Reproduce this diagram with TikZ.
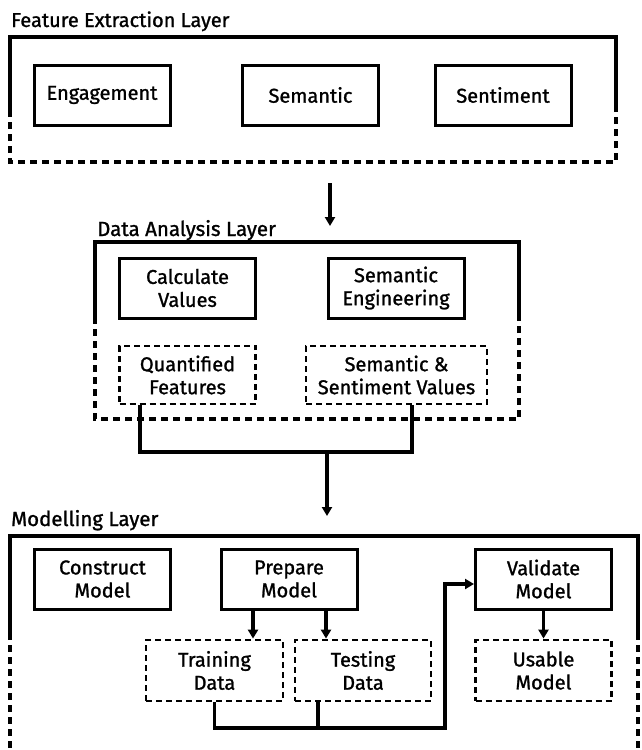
\documentclass[tikz,border=0pt]{standalone}
\usepackage{fontspec}
\setmainfont{Fira Sans}[FakeBold=1.2]
\usetikzlibrary{arrows.meta}
\tikzset{
  solidline/.style={line width=3.1pt},
  gapline/.style={line width=3.1pt, dash pattern=on 7pt off 5pt},
  stepbox/.style={draw, line width=3pt, minimum width=136pt, minimum height=60pt, align=center, inner sep=0pt},
  outbox/.style={stepbox, line width=2.8pt, dash pattern=on 6pt off 4pt},
  flow/.style={line width=3.1pt, -{Triangle[length=9pt,width=10pt]}},
  layertitle/.style={anchor=base west, inner sep=0pt},
  bigtext/.style={font=\fontsize{20}{24}\selectfont},
  smalltext/.style={font=\fontsize{20}{23}\selectfont}
}
\begin{document}
\begin{tikzpicture}[x=1pt,y=-1pt]
  \useasboundingbox (0,0) rectangle (641,750);

  % feature extraction layer
  \node[layertitle, bigtext] (fextitle) at (11,27) {Feature Extraction Layer};
  \draw[solidline] (10,110) -- (10,37) -- (616,37) -- (616,110);
  \draw[gapline] (10,110) -- (10,162) -- (616,162) -- (616,110);
  \node[stepbox, bigtext] (engage) at (102,95) {Engagement};
  \node[stepbox, bigtext] (semantic) at (310.5,95) {Semantic};
  \node[stepbox, bigtext] (sentiment) at (503,95) {Sentiment};

  \coordinate (fexout) at (330,183);
  \coordinate (dain) at (330,226);
  \draw[flow] (fexout) -- (dain);

  % data analysis layer
  \node[layertitle, font=\fontsize{20.5}{24}\selectfont] (datitle) at (97,236) {Data Analysis Layer};
  \draw[solidline] (95,317) -- (95,242) -- (519,242) -- (519,317);
  \draw[gapline] (95,317) -- (95,419) -- (519,419) -- (519,317);
  \node[stepbox, smalltext] (calc) at (187.5,288) {Calculate\\Values};
  \node[stepbox, smalltext] (semeng) at (396,288) {Semantic\\Engineering};
  \node[outbox, smalltext, minimum height=58pt] (quant) at (187.5,375) {Quantified\\Features};
  \node[outbox, smalltext, minimum width=181pt, minimum height=58pt] (semval) at (396.5,375) {Semantic \&\\Sentiment Values};

  \coordinate (join2) at (327,452);
  \coordinate (modin) at (327,516);
  \draw[solidline] ([xshift=-47.5pt]quant.south) |- (join2) -| ([xshift=15.5pt]semval.south);
  \draw[flow] (join2) -- (modin);

  % modelling layer
  \node[layertitle, font=\fontsize{20.5}{24}\selectfont] (modtitle) at (11,526) {Modelling Layer};
  \draw[solidline] (10,633) -- (10,536) -- (638,536) -- (638,633);
  \draw[gapline] (10,633) -- (10,750);
  \draw[gapline] (638,633) -- (638,750);
  \node[stepbox, smalltext] (construct) at (102.5,579) {Construct\\Model};
  \node[stepbox, smalltext] (prepare) at (289,579) {Prepare\\Model};
  \node[stepbox, smalltext] (validate) at (543.5,579) {Validate\\Model};
  \node[outbox, smalltext, minimum width=137pt, minimum height=61pt] (training) at (214.5,670.5) {Training\\Data};
  \node[outbox, smalltext, minimum height=61pt] (testing) at (363,670.5) {Testing\\Data};
  \node[outbox, smalltext, minimum height=61pt] (usable) at (543.5,670.5) {Usable\\Model};

  \draw[flow] ([xshift=-36pt]prepare.south) -- ([xshift=-36pt]prepare.south |- training.north);
  \draw[flow] ([xshift=37pt]prepare.south) -- ([xshift=37pt]prepare.south |- testing.north);
  \draw[flow] (validate.south) -- (usable.north);

  \coordinate (bend3) at (445,728);
  \draw[flow] (training.south) |- (bend3) |- ([yshift=-5pt]validate.west);
  \draw[solidline] ([xshift=-45pt]testing.south) -- ([xshift=-45pt]testing.south |- bend3);
\end{tikzpicture}
\end{document}
